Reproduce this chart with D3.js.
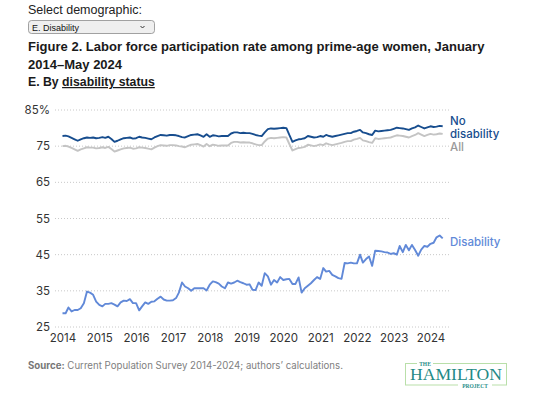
<!DOCTYPE html>
<html>
<head>
<meta charset="utf-8">
<script src="https://cdn.jsdelivr.net/npm/d3@7"></script>
<style>
  html, body { margin: 0; padding: 0; background: #fff; }
  svg { display: block; }
</style>
</head>
<body>
<svg id="chart" width="540" height="394"></svg>
<script>
// ---------------- DATA ----------------
const startMonth = "2014-01";   // first observation (monthly through May 2024)
const endMonth = "2024-05";

const yTicks = [25, 35, 45, 55, 65, 75, 85];
const yTickLabels = ["25", "35", "45", "55", "65", "75", "85%"];
const xTickYears = [2014, 2015, 2016, 2017, 2018, 2019, 2020, 2021, 2022, 2023, 2024];

const seriesNames = ["No disability", "All", "Disability"];

const noDisability = [
  77.8, 77.9, 77.7, 77.3, 76.9, 76.5, 76.9, 77.2, 77.4, 77.3, 77.4, 77.2,
  77.3, 77.5, 77.3, 77.6, 77.0, 76.2, 76.5, 76.9, 77.2, 77.3, 77.4, 77.1,
  77.2, 77.6, 77.4, 77.3, 77.1, 76.9, 77.4, 77.8, 78.1, 78.0, 77.9, 78.1,
  78.1, 78.0, 77.8, 77.5, 77.4, 77.8, 78.1, 78.2, 78.3, 78.0, 77.6, 78.3,
  77.6, 78.0, 77.9, 77.7, 77.8, 77.8, 77.8, 78.5, 78.8, 78.8, 78.6, 78.7,
  78.6, 78.6, 78.4, 78.1, 77.9, 77.8, 78.8, 79.7, 79.9, 79.8, 79.9, 80.0,
  80.1, 80.0, 78.1, 76.2, 76.6, 76.9, 77.0, 77.2, 77.8, 77.6, 77.4, 77.5,
  77.8, 77.6, 78.1, 77.8, 77.6, 77.8, 78.0, 78.2, 78.4, 78.6, 78.6, 79.0,
  79.2, 79.5, 78.8, 78.6, 78.3, 78.1, 79.3, 79.1, 79.2, 79.3, 79.4, 79.5,
  79.8, 80.1, 80.0, 79.9, 79.7, 79.5, 79.9, 80.2, 80.7, 80.3, 79.9, 80.2,
  80.5, 80.3, 80.4, 80.6, 80.5
];

const allWomen = [
  75.0, 75.1, 74.9, 74.5, 74.1, 73.7, 74.1, 74.4, 74.7, 74.6, 74.6, 74.4,
  74.5, 74.7, 74.5, 74.8, 74.2, 73.5, 73.8, 74.1, 74.4, 74.5, 74.6, 74.3,
  74.4, 74.7, 74.6, 74.5, 74.3, 74.1, 74.6, 75.0, 75.3, 75.2, 75.1, 75.3,
  75.3, 75.2, 75.0, 74.9, 74.7, 75.1, 75.4, 75.5, 75.6, 75.3, 74.9, 75.6,
  75.0, 75.4, 75.3, 75.1, 75.2, 75.2, 75.2, 75.9, 76.2, 76.2, 76.0, 76.1,
  76.0, 76.0, 75.8, 75.5, 75.3, 75.3, 76.3, 77.1, 77.3, 77.2, 77.3, 77.4,
  77.5, 77.4, 75.6, 73.8, 74.2, 74.5, 74.6, 74.8, 75.4, 75.2, 75.0, 75.2,
  75.5, 75.3, 75.8, 75.5, 75.3, 75.5, 75.7, 75.9, 76.2, 76.4, 76.4, 76.8,
  77.0, 77.3, 76.6, 76.4, 76.1, 75.9, 77.2, 77.0, 77.1, 77.2, 77.3, 77.4,
  77.7, 78.0, 77.9, 77.8, 77.6, 77.4, 77.8, 78.1, 78.6, 78.2, 77.8, 78.1,
  78.4, 78.2, 78.3, 78.5, 78.4
];

const disability = [
  28.8, 28.8, 30.4, 29.3, 29.7, 29.7, 30.2, 31.6, 34.8, 34.5, 33.9, 32.0,
  31.1, 30.7, 31.4, 31.4, 31.6, 31.2, 30.7, 31.8, 32.3, 32.2, 32.7, 31.6,
  31.6, 29.6, 30.7, 31.8, 31.4, 32.0, 32.1, 32.8, 33.4, 32.6, 32.3, 32.3,
  32.4, 33.0, 34.5, 37.3, 36.2, 35.7, 35.0, 35.7, 35.7, 35.7, 35.7, 35.1,
  36.7, 37.6, 37.4, 37.0, 36.2, 35.7, 37.3, 37.0, 37.3, 37.8, 37.4, 37.1,
  36.7, 36.8, 35.3, 35.2, 37.3, 36.4, 39.9, 39.0, 36.7, 38.0, 37.3, 38.8,
  38.0, 38.2, 38.3, 36.9, 36.9, 38.7, 34.5, 35.7, 36.4, 37.1, 38.0, 38.8,
  38.3, 41.3, 40.3, 40.5, 39.4, 39.0, 38.5, 38.3, 42.7, 42.6, 42.8, 42.6,
  42.6, 45.0, 42.8, 43.8, 44.5, 41.9, 46.1, 46.0, 45.9, 45.7, 45.6, 45.2,
  45.4, 45.0, 47.4, 45.7, 47.7, 46.2, 47.7, 46.3, 44.7, 46.4, 47.4, 47.2,
  48.0, 48.3, 49.8, 50.3, 49.5
];

const colors = { "No disability": "#174d8e", "All": "#c4c4c4", "Disability": "#6189d8" };

// ---------------- LAYOUT ----------------
const svg = d3.select("#chart");
const parseMonth = d3.timeParse("%Y-%m");
const months = d3.timeMonth.range(parseMonth(startMonth), d3.timeMonth.offset(parseMonth(endMonth), 1));

const x = d3.scaleTime()
  .domain([new Date(2014, 0, 1), new Date(2024, 0, 1)])
  .range([62.5, 430.5]);
const y = d3.scaleLinear().domain([25, 85]).range([327, 110]);

const gridX0 = 55, gridX1 = 450;

// header: "Select demographic:" + fake select
svg.append("text").attr("x", 28).attr("y", 14)
  .attr("font-family", "Liberation Sans, Arial, sans-serif").attr("font-size", 12.5)
  .attr("fill", "#222").text("Select demographic:");
svg.append("rect").attr("x", 28.5).attr("y", 20.5).attr("width", 126).attr("height", 13)
  .attr("rx", 3).attr("fill", "#efefef").attr("stroke", "#8a8a8a").attr("stroke-width", 0.8);
svg.append("text").attr("x", 32).attr("y", 30.5)
  .attr("font-family", "Liberation Sans, Arial, sans-serif").attr("font-size", 9)
  .attr("fill", "#111").text("E. Disability");
svg.append("path").attr("d", "M140.5,26 L142.5,28 L144.5,26")
  .attr("fill", "none").attr("stroke", "#333").attr("stroke-width", 1);

// title
function fitText(sel, w) {
  const n = sel.node();
  const len = n.getComputedTextLength();
  const fs = parseFloat(sel.attr("font-size"));
  sel.attr("font-size", (fs * w / len).toFixed(2));
}
const t1 = svg.append("text").attr("x", 28).attr("y", 51)
  .attr("font-family", "Liberation Sans, Arial, sans-serif").attr("font-size", 15)
  .attr("font-weight", "bold").attr("fill", "#1a1a1a")
  .text("Figure 2. Labor force participation rate among prime-age women, January");
fitText(t1, 457);
const t2 = svg.append("text").attr("x", 28).attr("y", 69)
  .attr("font-family", "Liberation Sans, Arial, sans-serif").attr("font-size", t1.attr("font-size"))
  .attr("font-weight", "bold").attr("fill", "#1a1a1a")
  .text("2014\u2013May 2024");

const sub = svg.append("text").attr("x", 28).attr("y", 86)
  .attr("font-family", "Liberation Sans, Arial, sans-serif").attr("font-size", 12)
  .attr("font-weight", "bold").attr("fill", "#1a1a1a");
sub.append("tspan").text("E. By ");
sub.append("tspan").attr("text-decoration", "underline").text("disability status");
fitText(sub, 127);

// gridlines + y labels
const gy = svg.append("g");
gy.selectAll("line").data(yTicks).join("line")
  .attr("x1", gridX0).attr("x2", gridX1)
  .attr("y1", d => y(d)).attr("y2", d => y(d))
  .attr("stroke", "#c8c8c8").attr("stroke-width", 1).attr("stroke-dasharray", "1,2");
gy.selectAll("text").data(yTicks).join("text")
  .attr("x", 50).attr("y", d => y(d)).attr("dy", "0.35em")
  .attr("text-anchor", "end")
  .attr("font-family", "Inter, sans-serif").attr("font-size", 11.5).attr("fill", "#333")
  .text((d, i) => yTickLabels[i]);

// x axis labels
const xAxis = d3.axisBottom(x)
  .tickValues(xTickYears.map(yr => new Date(yr, 0, 1)))
  .tickFormat(d3.timeFormat("%Y")).tickSize(0).tickPadding(0);
const gx = svg.append("g").attr("transform", "translate(0,334)").call(xAxis);
gx.select(".domain").remove();
gx.selectAll("text").attr("font-family", "Inter, sans-serif").attr("font-size", 11.5)
  .attr("fill", "#333").attr("dy", "0.71em");

// lines
const line = d3.line().x((d, i) => x(months[i])).y(d => y(d)).curve(d3.curveLinear);
const seriesData = { "No disability": noDisability, "All": allWomen, "Disability": disability };
["All", "Disability", "No disability"].forEach(name => {
  svg.append("path").datum(seriesData[name])
    .attr("d", line).attr("fill", "none")
    .attr("stroke", colors[name]).attr("stroke-width", 1.9)
    .attr("stroke-linejoin", "round");
});

// series labels
const lab = svg.append("g").attr("font-family", "Inter, sans-serif").attr("font-size", 11.5).attr("font-weight", 500);
const l1 = lab.append("text").attr("x", 450).attr("y", 125).attr("fill", colors["No disability"]);
l1.append("tspan").attr("x", 450).text("No");
l1.append("tspan").attr("x", 450).attr("dy", 12.5).text("disability");
lab.append("text").attr("x", 450).attr("y", 151).attr("fill", "#9a9a9a").text("All");
lab.append("text").attr("x", 450).attr("y", 246).attr("fill", colors["Disability"]).text("Disability");

// source
const src = svg.append("text").attr("x", 28).attr("y", 369)
  .attr("font-family", "Inter, sans-serif").attr("font-size", 10).attr("fill", "#808080");
src.append("tspan").attr("font-weight", "bold").attr("fill", "#777").text("Source:");
src.append("tspan").text(" Current Population Survey 2014-2024; authors\u2019 calculations.");
fitText(src, 315);

// logo
const logo = svg.append("g");
logo.append("rect").attr("x", 405.5).attr("y", 363.5).attr("width", 101).attr("height", 21.5)
  .attr("fill", "none").attr("stroke", "#b9dfa9").attr("stroke-width", 1);
logo.append("rect").attr("x", 417).attr("y", 361).attr("width", 16).attr("height", 5).attr("fill", "#fff");
logo.append("text").attr("x", 425).attr("y", 365.5).attr("text-anchor", "middle")
  .attr("font-family", "Liberation Serif, serif").attr("font-size", 5.5).attr("font-weight", "bold")
  .attr("fill", "#2a8f8a").text("THE");
logo.append("text").attr("x", 456).attr("y", 380).attr("text-anchor", "middle")
  .attr("font-family", "Liberation Serif, Times New Roman, serif").attr("font-size", 17)
  .attr("textLength", 92).attr("lengthAdjust", "spacingAndGlyphs")
  .attr("fill", "#1f8a86").text("HAMILTON");
logo.append("rect").attr("x", 458).attr("y", 383).attr("width", 34).attr("height", 5).attr("fill", "#fff");
logo.append("text").attr("x", 475).attr("y", 387.5).attr("text-anchor", "middle")
  .attr("font-family", "Liberation Serif, serif").attr("font-size", 5.5).attr("font-weight", "bold")
  .attr("fill", "#2a8f8a").text("PROJECT");
</script>
</body>
</html>
